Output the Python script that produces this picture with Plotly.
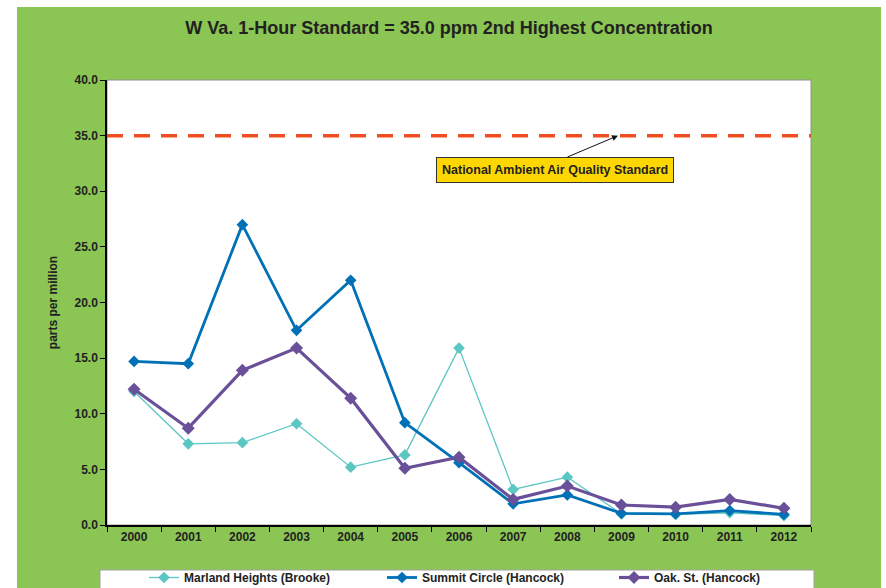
import plotly.graph_objects as go

years = ["2000", "2001", "2002", "2003", "2004", "2005", "2006", "2007", "2008", "2009", "2010", "2011", "2012"]
marland = [12.0, 7.3, 7.4, 9.1, 5.2, 6.3, 15.9, 3.2, 4.3, 1.0, 0.95, 1.1, 0.85]
summit = [14.7, 14.5, 27.0, 17.5, 22.0, 9.2, 5.6, 1.9, 2.7, 1.05, 1.0, 1.3, 0.95]
oak = [12.2, 8.7, 13.9, 15.9, 11.4, 5.1, 6.1, 2.3, 3.5, 1.8, 1.6, 2.3, 1.5]
standard = 35.0
y_ticks = [0, 5, 10, 15, 20, 25, 30, 35, 40]

W, H = 886, 588
L, R, T, B = 107, 811, 80, 525

def px(x):
    return (x - L) / (R - L)

def py(y):
    return (B - y) / (B - T)

FONT = "Arial, Liberation Sans, sans-serif"

fig = go.Figure()
fig.add_trace(go.Scatter(x=years, y=marland, name="<b>Marland Heights (Brooke)</b>", mode="lines+markers",
                         line=dict(color="#5CC6C2", width=1.3), legend="legend",
                         marker=dict(symbol="diamond", size=9, color="#5CC6C2")))
fig.add_trace(go.Scatter(x=years, y=summit, name="<b>Summit Circle (Hancock)</b>", mode="lines+markers",
                         line=dict(color="#0071B6", width=2.8), legend="legend2",
                         marker=dict(symbol="diamond", size=9, color="#0071B6")))
fig.add_trace(go.Scatter(x=years, y=oak, name="<b>Oak. St. (Hancock)</b>", mode="lines+markers",
                         line=dict(color="#6A5098", width=3.2), legend="legend3",
                         marker=dict(symbol="diamond", size=10, color="#6A5098")))

shapes = [
    # white outer strips
    dict(type="rect", xref="paper", yref="paper", x0=px(-5), x1=px(17), y0=py(600), y1=py(-5),
         fillcolor="white", line=dict(width=0), layer="below"),
    dict(type="rect", xref="paper", yref="paper", x0=px(-5), x1=px(890), y0=py(7), y1=py(-5),
         fillcolor="white", line=dict(width=0), layer="below"),
    dict(type="rect", xref="paper", yref="paper", x0=px(881), x1=px(890), y0=py(600), y1=py(-5),
         fillcolor="white", line=dict(width=0), layer="below"),
    # legend box
    dict(type="rect", xref="paper", yref="paper", x0=px(100), x1=px(814), y0=py(600), y1=py(570),
         fillcolor="white", line=dict(color="#A0A0A0", width=1), layer="below"),
    # plot border (top/right gray)
    dict(type="rect", xref="paper", yref="paper", x0=0, x1=1, y0=0, y1=1,
         line=dict(color="#909090", width=1), layer="below"),
    # standard line
    dict(type="line", xref="paper", yref="y", x0=0, x1=1, y0=standard, y1=standard,
         line=dict(color="#F04E23", width=3.5, dash="16px,11px")),
]

def leg(xpix):
    return dict(orientation="h", x=px(xpix), y=py(563), xanchor="left", yanchor="top",
                bgcolor="rgba(0,0,0,0)", itemwidth=30,
                font=dict(size=12, family=FONT, color="#222222"))

fig.update_layout(
    width=W, height=H,
    margin=dict(l=L, r=W - R, t=T, b=H - B, autoexpand=False),
    paper_bgcolor="#8BC553",
    plot_bgcolor="white",
    font=dict(family=FONT, color="#222222"),
    title=dict(text="<b>W Va. 1-Hour Standard = 35.0 ppm 2nd Highest Concentration</b>",
               x=px(449), xref="paper", xanchor="center", y=1 - 28 / H, yanchor="middle",
               font=dict(size=18, color="#222222", family=FONT)),
    xaxis=dict(type="category", range=[-0.5, 12.5], showgrid=False, showline=True,
               linecolor="black", linewidth=1.5, ticks="outside", tickson="boundaries",
               ticklen=5, tickcolor="black",
               tickvals=years, ticktext=["<b>%s</b>" % y for y in years],
               tickfont=dict(size=12, family=FONT, color="#222222")),
    yaxis=dict(range=[0, 40], tickvals=y_ticks, ticktext=["<b>%.1f</b>" % v for v in y_ticks],
               showgrid=False, showline=True, linecolor="black", linewidth=1.5,
               ticks="outside", ticklen=5, tickcolor="black", zeroline=False,
               tickfont=dict(size=12, family=FONT, color="#222222"),
               title=dict(text="<b>parts per million</b>", standoff=14,
                          font=dict(size=12, family=FONT, color="#222222"))),
    showlegend=True,
    legend=leg(144),
    legend2=leg(382),
    legend3=leg(614),
    shapes=shapes,
    annotations=[
        dict(text="<b>National Ambient Air Quality Standard</b>", xref="paper", yref="paper",
             x=px(555), y=py(170), xanchor="center", yanchor="middle", showarrow=False,
             bgcolor="#FFD700", bordercolor="#333333", borderwidth=1, borderpad=5,
             font=dict(size=12.5, family=FONT, color="#222222")),
        dict(text="", xref="paper", yref="y", x=px(618), y=standard, ax=566 - 618, ay=158 - 136,
             axref="pixel", ayref="pixel", showarrow=True, arrowhead=2, arrowsize=1.2,
             arrowwidth=1, arrowcolor="#111111"),
    ],
)

fig.write_html("out.html", config={"displayModeBar": False},
               post_script="document.body.style.margin='0';document.body.style.padding='0';")
